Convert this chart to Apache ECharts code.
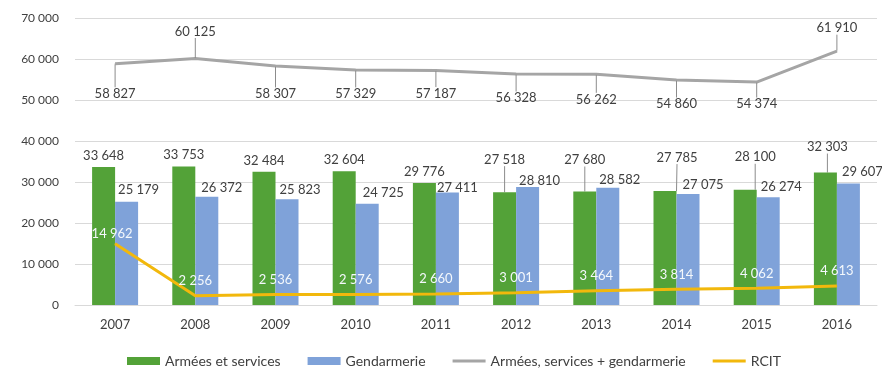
<!DOCTYPE html>
<html>
<head>
<meta charset="utf-8">
<script src="https://cdn.jsdelivr.net/npm/echarts@6/dist/echarts.min.js"></script>
<style>
  html, body { margin: 0; padding: 0; background: #ffffff; }
  #chart { width: 882px; height: 371px; }
</style>
</head>
<body>
<div id="chart"></div>
<script>
// Effectifs par année
const years = ['2007', '2008', '2009', '2010', '2011', '2012', '2013', '2014', '2015', '2016'];
const armees = [33648, 33753, 32484, 32604, 29776, 27518, 27680, 27785, 28100, 32303];
const gendarmerie = [25179, 26372, 25823, 24725, 27411, 28810, 28582, 27075, 26274, 29607];
const total = [58827, 60125, 58307, 57329, 57187, 56328, 56262, 54860, 54374, 61910];
const rcit = [14962, 2256, 2536, 2576, 2660, 3001, 3464, 3814, 4062, 4613];
const yTicks = [0, 10000, 20000, 30000, 40000, 50000, 60000, 70000];

// Label placement (pixel shifts from the default "top" position)
const armeesShift = [[0, 0], [0, 0], [0, 0], [0, 0], [0, 0], [0, -21], [0, -20], [12, -22], [10, -21], [2, -14]];
const gendShift = [[12, 0], [15, 2], [13, 2], [16, 1], [10, 7], [12, 5], [12, 3], [15, 2], [13, 1], [14, 0]];
const totalShift = [42, -15, 40, 36, 35, 36, 37, 36, 34, -11];
const rcitShift = [[-3, 5], [0, 0], [0, 0], [0, 0], [0, 0], [0, 0], [0, 0], [0, 0], [0, 0], [0, 0]];

const fmt = v => String(v).replace(/\B(?=(\d{3})+(?!\d))/g, ' ');

const FONT = 'Lato';
const TXT = '#404040';
const GREEN = '#53a238';
const BLUE = '#7fa2d9';
const GREY = '#a5a5a5';
const GOLD = '#f2b80c';

const chart = echarts.init(document.getElementById('chart'), null, { renderer: 'canvas' });

const labelBase = { show: true, color: TXT, fontFamily: FONT, fontSize: 13, formatter: p => fmt(p.value) };
const leaderStyle = { color: '#8c8c8c', width: 1 };

chart.setOption({
  backgroundColor: '#ffffff',
  animation: false,
  grid: { left: 75, right: 5, top: 18, bottom: 66 },
  legend: {
    left: 122,
    top: 349,
    itemWidth: 33,
    itemHeight: 8,
    itemGap: 27,
    textStyle: { color: TXT, fontFamily: FONT, fontSize: 14 },
    data: [
      { name: 'Armées et services', icon: 'rect' },
      { name: 'Gendarmerie', icon: 'rect' },
      { name: 'Armées, services + gendarmerie', icon: 'path://M0 0H40V3.5H0Z' },
      { name: 'RCIT', icon: 'path://M0 0H40V3.5H0Z' }
    ]
  },
  xAxis: {
    type: 'category',
    data: years,
    axisLine: { show: true, lineStyle: { color: '#d9d9d9', width: 1 } },
    axisTick: { show: false },
    axisLabel: { color: TXT, fontFamily: FONT, fontSize: 13, margin: 13 }
  },
  yAxis: {
    type: 'value',
    min: yTicks[0],
    max: yTicks[yTicks.length - 1],
    interval: yTicks[1] - yTicks[0],
    axisLine: { show: false },
    axisTick: { show: false },
    splitLine: { show: true, lineStyle: { color: '#d9d9d9', width: 1 } },
    axisLabel: { color: TXT, fontFamily: FONT, fontSize: 12, margin: 16, formatter: v => fmt(v) }
  },
  series: [
    {
      name: 'Armées et services',
      type: 'bar',
      barWidth: 23,
      barGap: '0%',
      itemStyle: { color: GREEN },
      data: armees.map((v, i) => ({
        value: v,
        labelLine: { show: armeesShift[i][1] !== 0, lineStyle: leaderStyle }
      })),
      label: Object.assign({ position: 'top', distance: 5 }, labelBase),
      labelLine: { show: false, lineStyle: leaderStyle },
      labelLayout: p => ({ dx: armeesShift[p.dataIndex][0], dy: armeesShift[p.dataIndex][1] }),
      z: 2
    },
    {
      name: 'Gendarmerie',
      type: 'bar',
      barWidth: 23,
      barGap: '0%',
      itemStyle: { color: BLUE },
      data: gendarmerie,
      label: Object.assign({ position: 'top', distance: 5 }, labelBase),
      labelLayout: p => ({ dx: gendShift[p.dataIndex][0], dy: gendShift[p.dataIndex][1] }),
      z: 2
    },
    {
      name: 'Armées, services + gendarmerie',
      type: 'line',
      data: total,
      symbol: 'circle',
      symbolSize: 1,
      showSymbol: true,
      itemStyle: { color: GREY },
      lineStyle: { color: GREY, width: 3 },
      label: Object.assign({ position: 'top', distance: 5 }, labelBase),
      labelLine: { show: true, lineStyle: leaderStyle },
      labelLayout: p => ({ dy: totalShift[p.dataIndex] }),
      z: 3
    },
    {
      name: 'RCIT',
      type: 'line',
      data: rcit,
      symbol: 'circle',
      symbolSize: 1,
      showSymbol: true,
      itemStyle: { color: GOLD },
      lineStyle: { color: GOLD, width: 3 },
      label: {
        show: true,
        position: 'top',
        distance: 8,
        color: '#f4f8fc',
        fontFamily: FONT,
        fontSize: 13,
        formatter: p => fmt(p.value)
      },
      labelLayout: p => ({ dx: rcitShift[p.dataIndex][0], dy: rcitShift[p.dataIndex][1] }),
      z: 4
    }
  ]
});
</script>
</body>
</html>
